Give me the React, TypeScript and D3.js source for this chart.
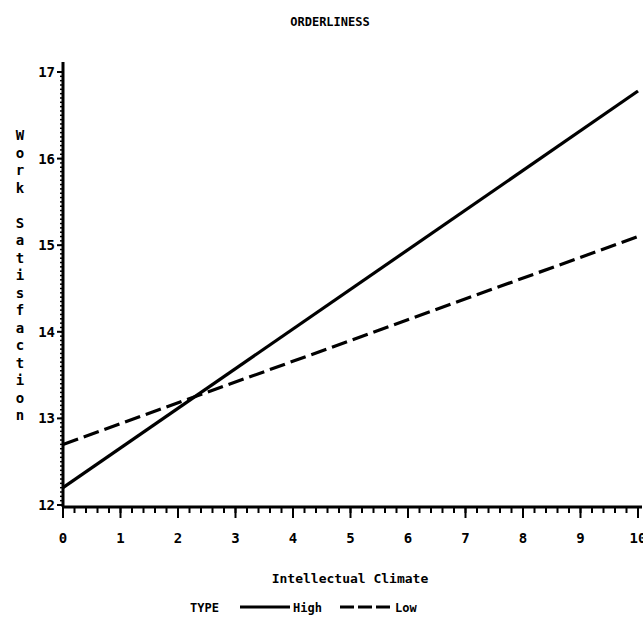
import * as d3 from 'd3';
import React from 'react';

// ORDERLINESS: work satisfaction vs intellectual climate, by type
const xTicks = [0, 1, 2, 3, 4, 5, 6, 7, 8, 9, 10];
const yTicks = [12, 13, 14, 15, 16, 17];
const typeNames = ['High', 'Low'];
const highLine = [
  { x: 0, y: 12.2 },
  { x: 10, y: 16.78 },
];
const lowLine = [
  { x: 0, y: 12.7 },
  { x: 10, y: 15.1 },
];

const params = {
  left: 63,
  right: 638,
  top: 72,
  bottom: 505,
};
const font = '"DejaVu Sans Mono", monospace';

export default function App() {
  const x = d3.scaleLinear().domain([0, 10]).range([params.left, params.right]);
  const y = d3.scaleLinear().domain([12, 17]).range([params.bottom, params.top]);
  const line = d3
    .line<{ x: number; y: number }>()
    .x((d) => x(d.x))
    .y((d) => y(d.y));

  const xMinor = d3.range(0, 10.001, 0.2);
  const yMinor = d3.range(12, 17.001, 0.05);
  const yLabel = 'Work Satisfaction'.split('');

  return (
    <svg width={643} height={626} style={{ position: 'absolute', left: 0, top: 0, background: '#fff' }}>
      <text x={330} y={26} textAnchor="middle" fontFamily={font} fontWeight="bold" fontSize={12}>
        ORDERLINESS
      </text>

      {/* y axis */}
      <line x1={params.left} x2={params.left} y1={params.bottom + 2} y2={params.top - 10} stroke="#000" strokeWidth={3} />
      {yMinor.map((v, i) => (
        <line key={'ym' + i} x1={params.left - 3} x2={params.left} y1={y(v)} y2={y(v)} stroke="#000" strokeWidth={1.5} />
      ))}
      {yTicks.map((v) => (
        <g key={'y' + v}>
          <line x1={params.left - 6} x2={params.left} y1={y(v)} y2={y(v)} stroke="#000" strokeWidth={2} />
          <text x={params.left - 8} y={y(v) + 5} textAnchor="end" fontFamily={font} fontWeight="bold" fontSize={14}>
            {v}
          </text>
        </g>
      ))}
      {yLabel.map((c, i) => (
        <text key={'yl' + i} x={20} y={140 + i * 17.5} textAnchor="middle" fontFamily={font} fontWeight="bold" fontSize={14}>
          {c}
        </text>
      ))}

      {/* x axis */}
      <line x1={params.left - 1} x2={params.right + 4} y1={params.bottom + 2} y2={params.bottom + 2} stroke="#000" strokeWidth={3} />
      {xMinor.map((v, i) => (
        <line key={'xm' + i} x1={x(v)} x2={x(v)} y1={params.bottom + 2} y2={params.bottom + 8} stroke="#000" strokeWidth={2} />
      ))}
      {xTicks.map((v) => (
        <g key={'x' + v}>
          <line x1={x(v)} x2={x(v)} y1={params.bottom + 2} y2={params.bottom + 13} stroke="#000" strokeWidth={2} />
          <text x={x(v)} y={params.bottom + 38} textAnchor="middle" fontFamily={font} fontWeight="bold" fontSize={14}>
            {v}
          </text>
        </g>
      ))}
      <text x={350} y={583} textAnchor="middle" fontFamily={font} fontWeight="bold" fontSize={13}>
        Intellectual Climate
      </text>

      {/* lines */}
      <path d={line(highLine) || ''} fill="none" stroke="#000" strokeWidth={3.2} />
      <path d={line(lowLine) || ''} fill="none" stroke="#000" strokeWidth={3.2} strokeDasharray="16,6" />

      {/* legend */}
      <text x={190} y={612} fontFamily={font} fontWeight="bold" fontSize={12}>
        TYPE
      </text>
      <line x1={240} x2={290} y1={607} y2={607} stroke="#000" strokeWidth={3} />
      <text x={293} y={612} fontFamily={font} fontWeight="bold" fontSize={12}>
        {typeNames[0]}
      </text>
      <line x1={340} x2={392} y1={607} y2={607} stroke="#000" strokeWidth={3} strokeDasharray="14,4" />
      <text x={395} y={612} fontFamily={font} fontWeight="bold" fontSize={12}>
        {typeNames[1]}
      </text>
    </svg>
  );
}
